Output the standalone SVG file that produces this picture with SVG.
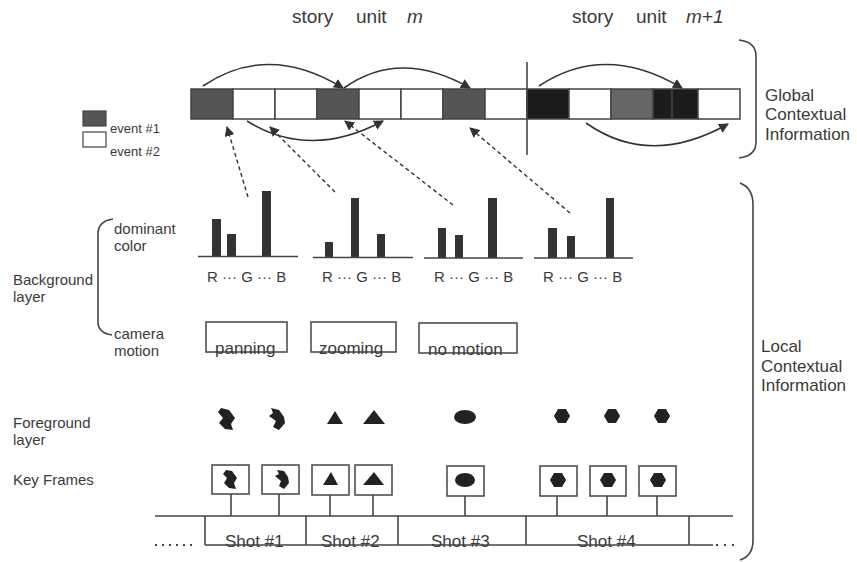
<svg xmlns="http://www.w3.org/2000/svg" width="857" height="562" viewBox="0 0 857 562">
<defs>
<marker id="ah" viewBox="0 0 10 10" refX="9" refY="5" markerWidth="10" markerHeight="10" markerUnits="userSpaceOnUse" orient="auto">
<path d="M0,0 L10,5 L0,10 z" fill="#333"/>
</marker>
<style>
text{font-family:"Liberation Sans",Arial,sans-serif;fill:#3a3a3a}
.t15{font-size:15px}
.t17{font-size:17px}
.t19{font-size:19px}
.t13{font-size:13px}
.ln{stroke:#444;stroke-width:1.6;fill:none}
.cell{stroke:#444;stroke-width:1.5}
.bar{fill:#333}
.box{fill:#fff;stroke:#444;stroke-width:1.5}
.shape{fill:#222}
.arc{stroke:#333;stroke-width:1.6;fill:none;marker-end:url(#ah)}
.dash{stroke:#333;stroke-width:1.4;fill:none;stroke-dasharray:4,3;marker-end:url(#ah)}
</style>
</defs>
<rect width="857" height="562" fill="#fff"/>

<g id="titles">
<text class="t19" x="292" y="23">story</text>
<text class="t19" x="356" y="23">unit</text>
<text class="t19" x="407" y="23" font-style="italic">m</text>
<text class="t19" x="572" y="23">story</text>
<text class="t19" x="636" y="23">unit</text>
<text class="t19" x="686" y="23" font-style="italic">m+1</text>
</g>

<g id="legend">
<rect x="83" y="111" width="23" height="15" fill="#555" stroke="#444" stroke-width="1.2"/>
<text class="t13" x="110" y="133">event #1</text>
<rect x="83" y="132" width="23" height="15" fill="#fff" stroke="#444" stroke-width="1.2"/>
<text class="t13" x="110" y="156">event #2</text>
</g>

<g id="event-bar">
<rect class="cell" x="191" y="89" width="42" height="30" fill="#555"/>
<rect class="cell" x="233" y="89" width="42" height="30" fill="#fff"/>
<rect class="cell" x="275" y="89" width="42" height="30" fill="#fff"/>
<rect class="cell" x="317" y="89" width="42" height="30" fill="#555"/>
<rect class="cell" x="359" y="89" width="42" height="30" fill="#fff"/>
<rect class="cell" x="401" y="89" width="42" height="30" fill="#fff"/>
<rect class="cell" x="443" y="89" width="42" height="30" fill="#555"/>
<rect class="cell" x="485" y="89" width="42" height="30" fill="#fff"/>
<rect class="cell" x="527" y="89" width="42" height="30" fill="#1c1c1c"/>
<rect class="cell" x="569" y="89" width="42" height="30" fill="#fff"/>
<rect class="cell" x="611" y="89" width="42" height="30" fill="#666"/>
<rect class="cell" x="653" y="89" width="45" height="30" fill="#1c1c1c"/>
<line x1="672" y1="90" x2="672" y2="118" stroke="#555" stroke-width="1"/>
<rect class="cell" x="698" y="89" width="42" height="30" fill="#fff"/>
<line class="ln" x1="527" y1="62" x2="527" y2="155"/>
</g>

<g id="braces">
<path class="ln" d="M739,40 Q756,42 756,56 L756,142 Q756,156 739,158"/>
<path class="ln" d="M740,183 Q753,188 753,205 L753,540 Q753,556 740,560"/>
<path class="ln" d="M113,219 Q98,221 98,234 L98,322 Q98,333 112,335"/>
</g>

<g id="side-labels">
<text class="t17" x="765" y="101">Global</text>
<text class="t17" x="765" y="120">Contextual</text>
<text class="t17" x="765" y="140">Information</text>
<text class="t17" x="761" y="352">Local</text>
<text class="t17" x="761" y="372">Contextual</text>
<text class="t17" x="761" y="391">Information</text>
<text class="t15" x="114" y="234">dominant</text>
<text class="t15" x="114" y="251">color</text>
<text class="t15" x="114" y="339">camera</text>
<text class="t15" x="114" y="356">motion</text>
<text class="t15" x="13" y="285">Background</text>
<text class="t15" x="13" y="302">layer</text>
<text class="t15" x="13" y="428">Foreground</text>
<text class="t15" x="13" y="445">layer</text>
<text class="t15" x="13" y="485">Key Frames</text>
</g>

<g id="chart-1">
<rect class="bar" x="212" y="219" width="9" height="37"/>
<rect class="bar" x="227" y="234" width="9" height="22"/>
<rect class="bar" x="262" y="191" width="9" height="65"/>
<line class="ln" x1="198" y1="256.5" x2="298" y2="256.5"/>
<text class="t15" x="207" y="282">R ··· G ··· B</text>
</g>
<g id="chart-2">
<rect class="bar" x="325" y="242" width="8" height="15"/>
<rect class="bar" x="351" y="198" width="8" height="59"/>
<rect class="bar" x="377" y="234" width="8" height="23"/>
<line class="ln" x1="313" y1="257.5" x2="413" y2="257.5"/>
<text class="t15" x="322" y="282">R ··· G ··· B</text>
</g>
<g id="chart-3">
<rect class="bar" x="438" y="228" width="8" height="30"/>
<rect class="bar" x="455" y="235" width="8" height="23"/>
<rect class="bar" x="488" y="198" width="9" height="60"/>
<line class="ln" x1="424" y1="258" x2="523" y2="258"/>
<text class="t15" x="434" y="282">R ··· G ··· B</text>
</g>
<g id="chart-4">
<rect class="bar" x="548" y="228" width="9" height="30"/>
<rect class="bar" x="567" y="236" width="8" height="22"/>
<rect class="bar" x="606" y="198" width="8" height="60"/>
<line class="ln" x1="534" y1="258" x2="633" y2="258"/>
<text class="t15" x="543" y="282">R ··· G ··· B</text>
</g>

<g id="camera-panning">
<rect x="206" y="322" width="81" height="30" fill="none" stroke="#444" stroke-width="1.5"/>
<text class="t17" x="215" y="354">panning</text>
</g>
<g id="camera-zooming">
<rect x="311" y="322" width="85" height="30" fill="none" stroke="#444" stroke-width="1.5"/>
<text class="t17" x="319" y="354">zooming</text>
</g>
<g id="camera-nomotion">
<rect x="419" y="323" width="98" height="30" fill="none" stroke="#444" stroke-width="1.5"/>
<text class="t17" x="428" y="355">no motion</text>
</g>

<g id="foreground">
<path class="shape" d="M221,408 L229,410 L235,418 L231,424 L233,430 L225,429 L219,423 L223,418 L218,412 Z"/>
<path class="shape" d="M271,408 L279,410 L284,417 L285,423 L279,430 L273,427 L276,421 L269,416 L273,413 Z"/>
<path class="shape" d="M335,411 L343,424 L327,424 Z"/>
<path class="shape" d="M374,410 L385,424 L363,424 Z"/>
<ellipse class="shape" cx="465" cy="417" rx="11" ry="7"/>
<path class="shape" d="M558,409 L566,409 L570,416 L566,423 L558,423 L554,416 Z"/>
<path class="shape" d="M608,409 L616,409 L620,416 L616,423 L608,423 L604,416 Z"/>
<path class="shape" d="M658,409 L666,409 L670,416 L666,423 L658,423 L654,416 Z"/>
</g>

<g id="keyframe-1">
<rect class="box" x="212" y="465" width="37" height="29"/>
<path class="shape" d="M226,470 L232,471 L237,478 L234,483 L236,489 L229,488 L224,483 L227,478 L223,474 Z"/>
</g>
<g id="keyframe-2">
<rect class="box" x="262" y="465" width="37" height="29"/>
<path class="shape" d="M277,470 L284,471 L288,477 L289,483 L284,489 L279,486 L281,481 L275,476 L279,474 Z"/>
</g>
<g id="keyframe-3">
<rect class="box" x="312" y="465" width="37" height="30"/>
<path class="shape" d="M331,472 L338,485 L323,485 Z"/>
</g>
<g id="keyframe-4">
<rect class="box" x="355" y="465" width="37" height="30"/>
<path class="shape" d="M374,472 L384,485 L363,485 Z"/>
</g>
<g id="keyframe-5">
<rect class="box" x="447" y="466" width="37" height="30"/>
<ellipse class="shape" cx="465" cy="480" rx="10" ry="7"/>
</g>
<g id="keyframe-6">
<rect class="box" x="540" y="466" width="37" height="30"/>
<path class="shape" d="M554,473 L562,473 L566,480 L562,487 L554,487 L550,480 Z"/>
</g>
<g id="keyframe-7">
<rect class="box" x="590" y="466" width="36" height="30"/>
<path class="shape" d="M604,473 L612,473 L616,480 L612,487 L604,487 L600,480 Z"/>
</g>
<g id="keyframe-8">
<rect class="box" x="639" y="466" width="37" height="30"/>
<path class="shape" d="M654,473 L662,473 L666,480 L662,487 L654,487 L650,480 Z"/>
</g>

<g id="timeline">
<line class="ln" x1="155" y1="516" x2="733" y2="516"/>
<line class="ln" x1="205" y1="545" x2="713" y2="545"/>
<line class="ln" x1="205" y1="516" x2="205" y2="545"/>
<line class="ln" x1="306" y1="516" x2="306" y2="545"/>
<line class="ln" x1="398" y1="516" x2="398" y2="545"/>
<line class="ln" x1="526" y1="516" x2="526" y2="545"/>
<line class="ln" x1="689" y1="516" x2="689" y2="545"/>
<line x1="155" y1="545" x2="195" y2="545" stroke="#444" stroke-width="2" stroke-dasharray="2,5"/>
<line x1="716" y1="545" x2="738" y2="545" stroke="#444" stroke-width="2" stroke-dasharray="2,6"/>
<text class="t17" x="225" y="547">Shot #1</text>
<text class="t17" x="321" y="547">Shot #2</text>
<text class="t17" x="431" y="547">Shot #3</text>
<text class="t17" x="577" y="547">Shot #4</text>
</g>

<g id="connectors">
<line class="ln" x1="231" y1="494" x2="231" y2="516"/>
<line class="ln" x1="279" y1="494" x2="279" y2="516"/>
<line class="ln" x1="330" y1="495" x2="330" y2="516"/>
<line class="ln" x1="373" y1="495" x2="373" y2="516"/>
<line class="ln" x1="465" y1="496" x2="465" y2="516"/>
<line class="ln" x1="557" y1="496" x2="557" y2="516"/>
<line class="ln" x1="607" y1="496" x2="607" y2="516"/>
<line class="ln" x1="657" y1="496" x2="657" y2="516"/>
<path class="arc" d="M203,86 Q268,42 343,88"/>
<path class="arc" d="M344,88 Q400,48 470,88"/>
<path class="arc" d="M539,86 Q605,42 682,88"/>
<path class="arc" d="M247,121 Q310,160 383,121"/>
<path class="arc" d="M586,123 Q650,168 728,124"/>
<path class="dash" d="M248,197 L227,127"/>
<path class="dash" d="M335,192 L270,127"/>
<path class="dash" d="M453,205 L345,121"/>
<path class="dash" d="M570,213 L470,128"/>
</g>
</svg>
